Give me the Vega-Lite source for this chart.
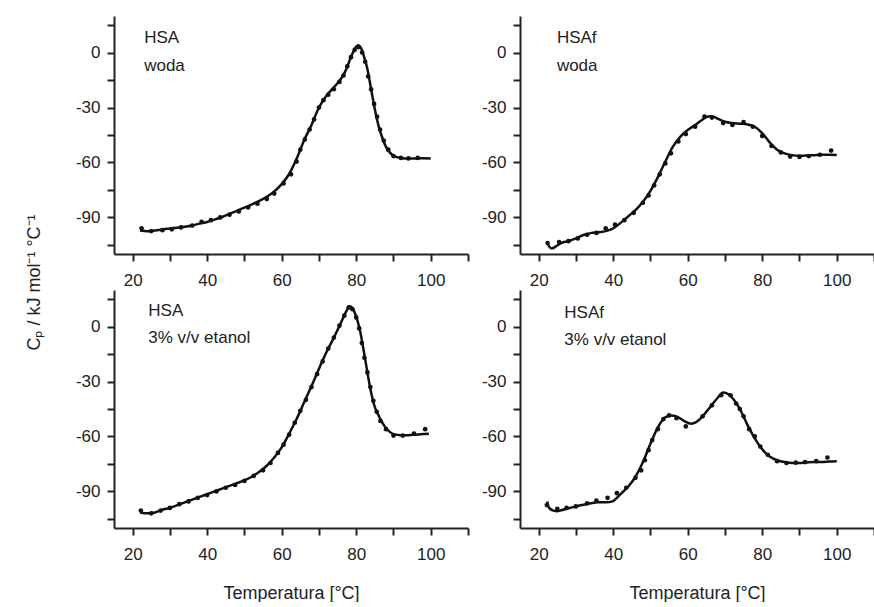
{
  "$schema": "https://vega.github.io/schema/vega-lite/v6.json",
  "padding": {"left": 25, "top": 16, "right": 0, "bottom": 0},
  "background": "white",
  "config": {
    "font": "Liberation Sans",
    "view": {"stroke": null},
    "axis": {"domainColor": "#222", "domainWidth": 2, "tickColor": "#222", "tickWidth": 2, "tickSize": 7, "tickCount": 20, "labelFontSize": 17, "labelColor": "#222", "labelFont": "Liberation Sans", "grid": false, "titleFont": "Liberation Sans", "titleFontSize": 18, "titleFontWeight": "normal", "titleColor": "#222", "labelOverlap": false, "labelFlush": false, "labelBound": false},
    "axisX": {"labelPadding": 11, "titlePadding": 22},
    "axisY": {"labelPadding": 7}
  },
  "datasets": {
    "curves": [
      {"p":"A","T":22,"Cp":-97.2},{"p":"A","T":24,"Cp":-97.6},{"p":"A","T":26,"Cp":-97.2},{"p":"A","T":28,"Cp":-96.6},{"p":"A","T":30,"Cp":-96.1},{"p":"A","T":32,"Cp":-95.6},{"p":"A","T":34,"Cp":-95.1},{"p":"A","T":36,"Cp":-94.4},{"p":"A","T":38,"Cp":-93.4},{"p":"A","T":40,"Cp":-92.5},{"p":"A","T":42,"Cp":-91.2},{"p":"A","T":44,"Cp":-89.8},{"p":"A","T":46,"Cp":-88.1},{"p":"A","T":48,"Cp":-86.4},{"p":"A","T":50,"Cp":-84.7},{"p":"A","T":52,"Cp":-82.9},{"p":"A","T":54,"Cp":-81.0},{"p":"A","T":56,"Cp":-78.8},{"p":"A","T":58,"Cp":-75.8},{"p":"A","T":60,"Cp":-71.8},{"p":"A","T":62,"Cp":-66.3},{"p":"A","T":64,"Cp":-58.0},{"p":"A","T":66,"Cp":-48.0},{"p":"A","T":68,"Cp":-39.5},{"p":"A","T":70,"Cp":-30.0},{"p":"A","T":72,"Cp":-23.5},{"p":"A","T":74,"Cp":-19.0},{"p":"A","T":76,"Cp":-14.0},{"p":"A","T":77,"Cp":-10.5},{"p":"A","T":78,"Cp":-5.5},{"p":"A","T":79,"Cp":-0.5},{"p":"A","T":80,"Cp":3.3},{"p":"A","T":80.6,"Cp":4.0},{"p":"A","T":81.2,"Cp":2.8},{"p":"A","T":82,"Cp":-1.5},{"p":"A","T":83,"Cp":-9},{"p":"A","T":84,"Cp":-20},{"p":"A","T":85,"Cp":-31},{"p":"A","T":86,"Cp":-40},{"p":"A","T":87,"Cp":-46.5},{"p":"A","T":88,"Cp":-51.5},{"p":"A","T":89,"Cp":-54.5},{"p":"A","T":90,"Cp":-56.3},{"p":"A","T":92,"Cp":-57.6},{"p":"A","T":94,"Cp":-57.9},{"p":"A","T":96,"Cp":-57.8},{"p":"A","T":98,"Cp":-57.7},{"p":"A","T":100,"Cp":-57.8},
      {"p":"B","T":22.4,"Cp":-104.5},{"p":"B","T":23.5,"Cp":-107},{"p":"B","T":24.5,"Cp":-106},{"p":"B","T":26,"Cp":-104},{"p":"B","T":28,"Cp":-103},{"p":"B","T":30,"Cp":-101.5},{"p":"B","T":32,"Cp":-99.6},{"p":"B","T":34,"Cp":-98.6},{"p":"B","T":36,"Cp":-98.1},{"p":"B","T":38,"Cp":-97.5},{"p":"B","T":40,"Cp":-96},{"p":"B","T":42,"Cp":-93},{"p":"B","T":44,"Cp":-89.5},{"p":"B","T":46,"Cp":-86},{"p":"B","T":48,"Cp":-81.5},{"p":"B","T":50,"Cp":-75.5},{"p":"B","T":52,"Cp":-68},{"p":"B","T":54,"Cp":-59.5},{"p":"B","T":56,"Cp":-51.5},{"p":"B","T":58,"Cp":-46},{"p":"B","T":60,"Cp":-42.3},{"p":"B","T":62,"Cp":-39.6},{"p":"B","T":64,"Cp":-36.5},{"p":"B","T":65,"Cp":-35.2},{"p":"B","T":66,"Cp":-34.8},{"p":"B","T":67,"Cp":-35},{"p":"B","T":68,"Cp":-36},{"p":"B","T":70,"Cp":-37.8},{"p":"B","T":72,"Cp":-38.5},{"p":"B","T":74,"Cp":-38.8},{"p":"B","T":76,"Cp":-39.2},{"p":"B","T":78,"Cp":-40.5},{"p":"B","T":80,"Cp":-44},{"p":"B","T":82,"Cp":-49},{"p":"B","T":84,"Cp":-53},{"p":"B","T":86,"Cp":-55},{"p":"B","T":88,"Cp":-56},{"p":"B","T":90,"Cp":-56.3},{"p":"B","T":92,"Cp":-56.2},{"p":"B","T":94,"Cp":-56},{"p":"B","T":96,"Cp":-55.8},{"p":"B","T":98,"Cp":-55.8},{"p":"B","T":100,"Cp":-55.9},
      {"p":"C","T":22,"Cp":-101.5},{"p":"C","T":24,"Cp":-102},{"p":"C","T":26,"Cp":-101.5},{"p":"C","T":28,"Cp":-100},{"p":"C","T":30,"Cp":-99},{"p":"C","T":32,"Cp":-97.5},{"p":"C","T":34,"Cp":-96},{"p":"C","T":36,"Cp":-94.5},{"p":"C","T":38,"Cp":-93},{"p":"C","T":40,"Cp":-91.5},{"p":"C","T":42,"Cp":-90},{"p":"C","T":44,"Cp":-88.5},{"p":"C","T":46,"Cp":-87},{"p":"C","T":48,"Cp":-85.5},{"p":"C","T":50,"Cp":-84},{"p":"C","T":52,"Cp":-82},{"p":"C","T":54,"Cp":-79.3},{"p":"C","T":56,"Cp":-76},{"p":"C","T":58,"Cp":-71.5},{"p":"C","T":60,"Cp":-66},{"p":"C","T":62,"Cp":-58.5},{"p":"C","T":64,"Cp":-50.5},{"p":"C","T":66,"Cp":-41.5},{"p":"C","T":68,"Cp":-32.5},{"p":"C","T":70,"Cp":-23},{"p":"C","T":72,"Cp":-14},{"p":"C","T":74,"Cp":-6},{"p":"C","T":76,"Cp":2.5},{"p":"C","T":77,"Cp":7},{"p":"C","T":78,"Cp":10.5},{"p":"C","T":78.5,"Cp":11},{"p":"C","T":79,"Cp":10},{"p":"C","T":80,"Cp":5.5},{"p":"C","T":81,"Cp":-2},{"p":"C","T":82,"Cp":-13},{"p":"C","T":83,"Cp":-25},{"p":"C","T":84,"Cp":-36},{"p":"C","T":85,"Cp":-44},{"p":"C","T":86,"Cp":-48.5},{"p":"C","T":87,"Cp":-52.5},{"p":"C","T":88,"Cp":-55.5},{"p":"C","T":89,"Cp":-57.5},{"p":"C","T":90,"Cp":-58.7},{"p":"C","T":92,"Cp":-59.3},{"p":"C","T":94,"Cp":-59.3},{"p":"C","T":96,"Cp":-59},{"p":"C","T":98,"Cp":-58.7},{"p":"C","T":99.5,"Cp":-58.5},
      {"p":"D","T":22.3,"Cp":-95.5},{"p":"D","T":22.8,"Cp":-99},{"p":"D","T":24,"Cp":-100.5},{"p":"D","T":25,"Cp":-100.8},{"p":"D","T":26,"Cp":-100.3},{"p":"D","T":28,"Cp":-99.2},{"p":"D","T":30,"Cp":-98.2},{"p":"D","T":32,"Cp":-97.3},{"p":"D","T":34,"Cp":-96.5},{"p":"D","T":36,"Cp":-96},{"p":"D","T":38,"Cp":-96},{"p":"D","T":40,"Cp":-95.3},{"p":"D","T":41,"Cp":-93.5},{"p":"D","T":42,"Cp":-91.5},{"p":"D","T":44,"Cp":-87.5},{"p":"D","T":46,"Cp":-82},{"p":"D","T":48,"Cp":-74},{"p":"D","T":50,"Cp":-64},{"p":"D","T":52,"Cp":-55},{"p":"D","T":54,"Cp":-49.5},{"p":"D","T":55.5,"Cp":-48.5},{"p":"D","T":57,"Cp":-49},{"p":"D","T":59,"Cp":-51.5},{"p":"D","T":61,"Cp":-53},{"p":"D","T":62,"Cp":-52.5},{"p":"D","T":63,"Cp":-51},{"p":"D","T":64,"Cp":-49},{"p":"D","T":66,"Cp":-44},{"p":"D","T":68,"Cp":-39},{"p":"D","T":69.5,"Cp":-36},{"p":"D","T":70.5,"Cp":-36.5},{"p":"D","T":72,"Cp":-39},{"p":"D","T":74,"Cp":-45},{"p":"D","T":76,"Cp":-53.5},{"p":"D","T":78,"Cp":-61},{"p":"D","T":80,"Cp":-67},{"p":"D","T":82,"Cp":-71},{"p":"D","T":84,"Cp":-73},{"p":"D","T":86,"Cp":-74},{"p":"D","T":88,"Cp":-74.5},{"p":"D","T":90,"Cp":-74.5},{"p":"D","T":92,"Cp":-74.2},{"p":"D","T":94,"Cp":-74},{"p":"D","T":96,"Cp":-74},{"p":"D","T":98,"Cp":-73.7},{"p":"D","T":100,"Cp":-73.5}
    ],
    "dots": [
      {"p":"A","T":22.4,"Cp":-96},{"p":"A","T":25,"Cp":-97.5},{"p":"A","T":28,"Cp":-97},{"p":"A","T":30.5,"Cp":-96.5},{"p":"A","T":33,"Cp":-95.5},{"p":"A","T":36,"Cp":-94.5},{"p":"A","T":38.5,"Cp":-92.5},{"p":"A","T":41,"Cp":-91.5},{"p":"A","T":43.5,"Cp":-90},{"p":"A","T":46,"Cp":-88.5},{"p":"A","T":48.5,"Cp":-86.8},{"p":"A","T":51,"Cp":-84.6},{"p":"A","T":53.5,"Cp":-82.5},{"p":"A","T":56,"Cp":-80},{"p":"A","T":58,"Cp":-77},{"p":"A","T":60.5,"Cp":-71.5},{"p":"A","T":62.5,"Cp":-66.5},{"p":"A","T":64,"Cp":-59.5},{"p":"A","T":65,"Cp":-53},{"p":"A","T":66.2,"Cp":-47.5},{"p":"A","T":67.5,"Cp":-42},{"p":"A","T":68.7,"Cp":-36.5},{"p":"A","T":70,"Cp":-30},{"p":"A","T":71.2,"Cp":-26},{"p":"A","T":72.5,"Cp":-23},{"p":"A","T":74,"Cp":-20},{"p":"A","T":75.5,"Cp":-16},{"p":"A","T":76.6,"Cp":-12.5},{"p":"A","T":77.6,"Cp":-7.5},{"p":"A","T":78.6,"Cp":-2.5},{"p":"A","T":79.6,"Cp":1.5},{"p":"A","T":80.6,"Cp":3},{"p":"A","T":81.6,"Cp":0},{"p":"A","T":82.4,"Cp":-5},{"p":"A","T":83.2,"Cp":-13},{"p":"A","T":84,"Cp":-20},{"p":"A","T":84.8,"Cp":-28},{"p":"A","T":85.6,"Cp":-35},{"p":"A","T":86.4,"Cp":-42},{"p":"A","T":87.4,"Cp":-48},{"p":"A","T":88.6,"Cp":-53},{"p":"A","T":90,"Cp":-56.5},{"p":"A","T":92,"Cp":-57.5},{"p":"A","T":94,"Cp":-57.8},{"p":"A","T":96.5,"Cp":-57.5},
      {"p":"B","T":22.4,"Cp":-104},{"p":"B","T":25.5,"Cp":-103.5},{"p":"B","T":28,"Cp":-103},{"p":"B","T":30.5,"Cp":-101.5},{"p":"B","T":33,"Cp":-99.5},{"p":"B","T":35.5,"Cp":-98.5},{"p":"B","T":38,"Cp":-96},{"p":"B","T":40.5,"Cp":-94},{"p":"B","T":43,"Cp":-91.5},{"p":"B","T":45.5,"Cp":-87.5},{"p":"B","T":48,"Cp":-82},{"p":"B","T":49.5,"Cp":-78},{"p":"B","T":51,"Cp":-72.5},{"p":"B","T":52.5,"Cp":-66.5},{"p":"B","T":54,"Cp":-60.5},{"p":"B","T":55.5,"Cp":-55},{"p":"B","T":57.5,"Cp":-48.5},{"p":"B","T":59.5,"Cp":-44.5},{"p":"B","T":62,"Cp":-40.5},{"p":"B","T":64.5,"Cp":-35},{"p":"B","T":66.5,"Cp":-35.5},{"p":"B","T":69.5,"Cp":-38.5},{"p":"B","T":72,"Cp":-39.5},{"p":"B","T":75,"Cp":-38},{"p":"B","T":77.5,"Cp":-40.5},{"p":"B","T":80,"Cp":-45.5},{"p":"B","T":82.5,"Cp":-51},{"p":"B","T":85,"Cp":-54.5},{"p":"B","T":87.5,"Cp":-56.8},{"p":"B","T":90,"Cp":-57},{"p":"B","T":92.5,"Cp":-56.5},{"p":"B","T":95.5,"Cp":-55.8},{"p":"B","T":98.5,"Cp":-53.5},
      {"p":"C","T":22.2,"Cp":-100.5},{"p":"C","T":25,"Cp":-102},{"p":"C","T":27.5,"Cp":-100.5},{"p":"C","T":30,"Cp":-99},{"p":"C","T":32.5,"Cp":-97},{"p":"C","T":35,"Cp":-95.5},{"p":"C","T":37.5,"Cp":-93.5},{"p":"C","T":40,"Cp":-92},{"p":"C","T":42.5,"Cp":-90},{"p":"C","T":45,"Cp":-88},{"p":"C","T":47.5,"Cp":-86.5},{"p":"C","T":50,"Cp":-84.3},{"p":"C","T":52.5,"Cp":-81.5},{"p":"C","T":55,"Cp":-78.5},{"p":"C","T":57,"Cp":-74.5},{"p":"C","T":59,"Cp":-69},{"p":"C","T":60.5,"Cp":-64.5},{"p":"C","T":62,"Cp":-59},{"p":"C","T":63.5,"Cp":-52.5},{"p":"C","T":65,"Cp":-46},{"p":"C","T":66.5,"Cp":-40},{"p":"C","T":68,"Cp":-33},{"p":"C","T":69.5,"Cp":-26},{"p":"C","T":71,"Cp":-19},{"p":"C","T":72.5,"Cp":-12},{"p":"C","T":74,"Cp":-6},{"p":"C","T":75.5,"Cp":0.5},{"p":"C","T":76.8,"Cp":6},{"p":"C","T":78,"Cp":10.5},{"p":"C","T":79,"Cp":9.5},{"p":"C","T":80,"Cp":5},{"p":"C","T":80.8,"Cp":-1},{"p":"C","T":81.5,"Cp":-9},{"p":"C","T":82.2,"Cp":-17},{"p":"C","T":83,"Cp":-25},{"p":"C","T":83.8,"Cp":-33},{"p":"C","T":84.6,"Cp":-40.5},{"p":"C","T":85.5,"Cp":-46.5},{"p":"C","T":86.5,"Cp":-51.5},{"p":"C","T":88,"Cp":-56},{"p":"C","T":90,"Cp":-59.5},{"p":"C","T":92.5,"Cp":-59.5},{"p":"C","T":95.5,"Cp":-58.5},{"p":"C","T":98.5,"Cp":-56},
      {"p":"D","T":22.2,"Cp":-97.5},{"p":"D","T":25,"Cp":-99.5},{"p":"D","T":27.5,"Cp":-99},{"p":"D","T":30,"Cp":-98.2},{"p":"D","T":33,"Cp":-96.5},{"p":"D","T":35.5,"Cp":-95},{"p":"D","T":38.5,"Cp":-93.5},{"p":"D","T":41,"Cp":-91},{"p":"D","T":43.5,"Cp":-88},{"p":"D","T":46,"Cp":-82.5},{"p":"D","T":47.5,"Cp":-78.5},{"p":"D","T":48.5,"Cp":-73},{"p":"D","T":49.5,"Cp":-67.5},{"p":"D","T":50.5,"Cp":-62},{"p":"D","T":52,"Cp":-56},{"p":"D","T":53.5,"Cp":-50.5},{"p":"D","T":55,"Cp":-48.5},{"p":"D","T":57,"Cp":-50},{"p":"D","T":59.5,"Cp":-54.5},{"p":"D","T":64,"Cp":-49},{"p":"D","T":66.5,"Cp":-43},{"p":"D","T":69,"Cp":-37.5},{"p":"D","T":71.5,"Cp":-37.5},{"p":"D","T":73,"Cp":-42},{"p":"D","T":74,"Cp":-45},{"p":"D","T":75,"Cp":-49},{"p":"D","T":76.5,"Cp":-56},{"p":"D","T":78,"Cp":-60},{"p":"D","T":79.5,"Cp":-65.5},{"p":"D","T":81.5,"Cp":-70},{"p":"D","T":84,"Cp":-73.5},{"p":"D","T":86.5,"Cp":-74.5},{"p":"D","T":89,"Cp":-74.3},{"p":"D","T":91.5,"Cp":-74},{"p":"D","T":94.5,"Cp":-73.5},{"p":"D","T":97.5,"Cp":-71.5}
    ],
    "labels": [
      {"p":"A","text":"HSA\nwoda"},
      {"p":"B","text":"HSAf\nwoda"},
      {"p":"C","text":"HSA\n3% v/v etanol"},
      {"p":"D","text":"HSAf\n3% v/v etanol"}
    ]
  },
  "columns": 2,
  "spacing": {"row": 36, "column": 52},
  "bounds": "flush",
  "concat": [
    {
      "width": 354, "height": 238,
      "layer": [
        {"data": {"name": "curves"}, "transform": [{"filter": "datum.p === 'A'"}],
         "mark": {"type": "line", "color": "#111", "strokeWidth": 2.5, "interpolate": "monotone"},
         "encoding": {
           "x": {"field": "T", "type": "quantitative", "scale": {"domain": [15, 110], "nice": false, "zero": false}, "axis": {"title": null, "tickCount": 20, "values": [20,30,40,50,60,70,80,90,100,110], "labelExpr": "datum.value % 20 === 0 ? '' + datum.value : ''"}},
           "y": {"field": "Cp", "type": "quantitative", "scale": {"domain": [-110, 20], "nice": false, "zero": false}, "axis": {"title": "Cₚ / kJ mol⁻¹ °C⁻¹", "titleY": 266, "titlePadding": 32, "tickCount": 20, "values": [-105,-90,-75,-60,-45,-30,-15,0,15], "labelExpr": "abs(datum.value) % 30 < 0.5 ? '' + datum.value : ''"}}
         }},
        {"data": {"name": "dots"}, "transform": [{"filter": "datum.p === 'A'"}],
         "mark": {"type": "circle", "color": "#111", "size": 22, "opacity": 1},
         "encoding": {"x": {"field": "T", "type": "quantitative"}, "y": {"field": "Cp", "type": "quantitative"}}},
        {"data": {"name": "labels"}, "transform": [{"filter": "datum.p === 'A'"}],
         "mark": {"type": "text", "align": "left", "baseline": "alphabetic", "fontSize": 17, "lineBreak": "\n", "lineHeight": 28, "color": "#222"},
         "encoding": {"x": {"datum": 23.1}, "y": {"datum": 5.5}, "text": {"field": "text"}}}
      ]
    },
    {
      "width": 354, "height": 238,
      "layer": [
        {"data": {"name": "curves"}, "transform": [{"filter": "datum.p === 'B'"}],
         "mark": {"type": "line", "color": "#111", "strokeWidth": 2.5, "interpolate": "monotone"},
         "encoding": {
           "x": {"field": "T", "type": "quantitative", "scale": {"domain": [15, 110], "nice": false, "zero": false}, "axis": {"title": null, "tickCount": 20, "values": [20,30,40,50,60,70,80,90,100,110], "labelExpr": "datum.value % 20 === 0 ? '' + datum.value : ''"}},
           "y": {"field": "Cp", "type": "quantitative", "scale": {"domain": [-110, 20], "nice": false, "zero": false}, "axis": {"title": null, "tickCount": 20, "values": [-105,-90,-75,-60,-45,-30,-15,0,15], "labelExpr": "abs(datum.value) % 30 < 0.5 ? '' + datum.value : ''"}}
         }},
        {"data": {"name": "dots"}, "transform": [{"filter": "datum.p === 'B'"}],
         "mark": {"type": "circle", "color": "#111", "size": 22, "opacity": 1},
         "encoding": {"x": {"field": "T", "type": "quantitative"}, "y": {"field": "Cp", "type": "quantitative"}}},
        {"data": {"name": "labels"}, "transform": [{"filter": "datum.p === 'B'"}],
         "mark": {"type": "text", "align": "left", "baseline": "alphabetic", "fontSize": 17, "lineBreak": "\n", "lineHeight": 28, "color": "#222"},
         "encoding": {"x": {"datum": 24.9}, "y": {"datum": 5.5}, "text": {"field": "text"}}}
      ]
    },
    {
      "width": 354, "height": 238,
      "layer": [
        {"data": {"name": "curves"}, "transform": [{"filter": "datum.p === 'C'"}],
         "mark": {"type": "line", "color": "#111", "strokeWidth": 2.5, "interpolate": "monotone"},
         "encoding": {
           "x": {"field": "T", "type": "quantitative", "scale": {"domain": [15, 110], "nice": false, "zero": false}, "axis": {"title": "Temperatura [°C]", "tickCount": 20, "values": [20,30,40,50,60,70,80,90,100,110], "labelExpr": "datum.value % 20 === 0 ? '' + datum.value : ''"}},
           "y": {"field": "Cp", "type": "quantitative", "scale": {"domain": [-110, 20], "nice": false, "zero": false}, "axis": {"title": null, "tickCount": 20, "values": [-105,-90,-75,-60,-45,-30,-15,0,15], "labelExpr": "abs(datum.value) % 30 < 0.5 ? '' + datum.value : ''"}}
         }},
        {"data": {"name": "dots"}, "transform": [{"filter": "datum.p === 'C'"}],
         "mark": {"type": "circle", "color": "#111", "size": 22, "opacity": 1},
         "encoding": {"x": {"field": "T", "type": "quantitative"}, "y": {"field": "Cp", "type": "quantitative"}}},
        {"data": {"name": "labels"}, "transform": [{"filter": "datum.p === 'C'"}],
         "mark": {"type": "text", "align": "left", "baseline": "alphabetic", "fontSize": 17, "lineBreak": "\n", "lineHeight": 27, "color": "#222"},
         "encoding": {"x": {"datum": 24.2}, "y": {"datum": 5.8}, "text": {"field": "text"}}}
      ]
    },
    {
      "width": 354, "height": 238,
      "layer": [
        {"data": {"name": "curves"}, "transform": [{"filter": "datum.p === 'D'"}],
         "mark": {"type": "line", "color": "#111", "strokeWidth": 2.5, "interpolate": "monotone"},
         "encoding": {
           "x": {"field": "T", "type": "quantitative", "scale": {"domain": [15, 110], "nice": false, "zero": false}, "axis": {"title": "Temperatura [°C]", "tickCount": 20, "values": [20,30,40,50,60,70,80,90,100,110], "labelExpr": "datum.value % 20 === 0 ? '' + datum.value : ''"}},
           "y": {"field": "Cp", "type": "quantitative", "scale": {"domain": [-110, 20], "nice": false, "zero": false}, "axis": {"title": null, "tickCount": 20, "values": [-105,-90,-75,-60,-45,-30,-15,0,15], "labelExpr": "abs(datum.value) % 30 < 0.5 ? '' + datum.value : ''"}}
         }},
        {"data": {"name": "dots"}, "transform": [{"filter": "datum.p === 'D'"}],
         "mark": {"type": "circle", "color": "#111", "size": 22, "opacity": 1},
         "encoding": {"x": {"field": "T", "type": "quantitative"}, "y": {"field": "Cp", "type": "quantitative"}}},
        {"data": {"name": "labels"}, "transform": [{"filter": "datum.p === 'D'"}],
         "mark": {"type": "text", "align": "left", "baseline": "alphabetic", "fontSize": 17, "lineBreak": "\n", "lineHeight": 27, "color": "#222"},
         "encoding": {"x": {"datum": 26.9}, "y": {"datum": 4.9}, "text": {"field": "text"}}}
      ]
    }
  ]
}
